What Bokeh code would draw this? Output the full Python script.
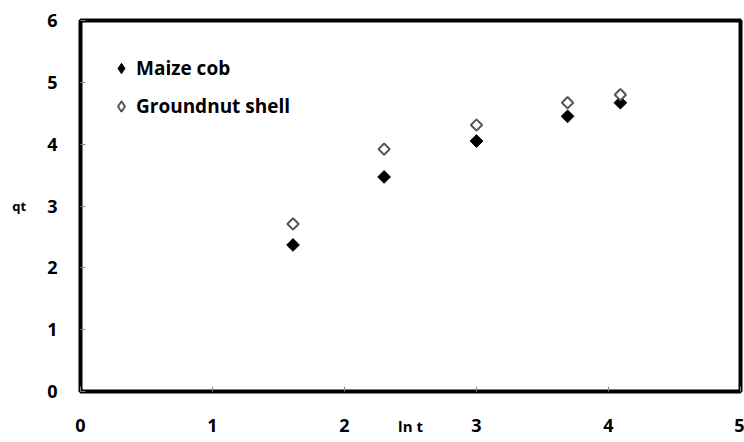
import math
from bokeh.plotting import figure
from bokeh.models import FixedTicker, Legend, LegendItem, Range1d
from bokeh.embed import file_html
from bokeh.resources import INLINE

# ---- data ----
ln_t = [1.61, 2.30, 3.00, 3.69, 4.09]
maize_cob = [2.37, 3.47, 4.05, 4.45, 4.67]
groundnut_shell = [2.71, 3.92, 4.31, 4.67, 4.80]
x_ticks = [0, 1, 2, 3, 4, 5]
y_ticks = [0, 1, 2, 3, 4, 5, 6]
x_title = "ln t"
y_title = "qt"
series_names = ["Maize cob", "Groundnut shell"]

FONT = "Open Sans"

p = figure(width=744, height=442, output_backend="svg", toolbar_location=None,
           x_range=Range1d(0, 5), y_range=Range1d(0, 6),
           min_border_left=80, min_border_right=4, min_border_top=20,
           min_border_bottom=51)
p.background_fill_color = "white"
p.border_fill_color = "white"
p.outline_line_color = "black"
p.outline_line_width = 4
p.xgrid.grid_line_color = None
p.ygrid.grid_line_color = None

for ax, ticks in ((p.xaxis, x_ticks), (p.yaxis, y_ticks)):
    ax.ticker = FixedTicker(ticks=ticks)
    ax.axis_line_color = None
    ax.major_tick_in = 5
    ax.major_tick_out = 0
    ax.major_tick_line_color = "#888888"
    ax.minor_tick_line_color = None
    ax.major_label_text_font = FONT
    ax.major_label_text_font_style = "bold"
    ax.major_label_text_font_size = "18px"
    ax.major_label_text_color = "black"
p.xaxis.major_label_standoff = 27
p.yaxis.major_label_standoff = 23

p.xaxis.axis_label = x_title
p.xaxis.axis_label_standoff = -19
p.xaxis.axis_label_text_font = FONT
p.xaxis.axis_label_text_font_style = "bold"
p.xaxis.axis_label_text_font_size = "15px"
p.xaxis.axis_label_text_color = "black"

p.yaxis.axis_label = y_title
p.yaxis.axis_label_orientation = "horizontal"
p.yaxis.axis_label_standoff = 18
p.yaxis.axis_label_text_font = FONT
p.yaxis.axis_label_text_font_style = "bold"
p.yaxis.axis_label_text_font_size = "13px"
p.yaxis.axis_label_text_color = "black"

r1 = p.scatter(ln_t, maize_cob, marker="square", size=9, angle=math.pi / 4,
               fill_color="black", line_color="black", line_width=1)
r2 = p.scatter(ln_t, groundnut_shell, marker="square", size=8, angle=math.pi / 4,
               fill_color="white", line_color="#555555", line_width=2)

# hidden twins of the series, used only to draw diamond keys in the legend
l1 = p.scatter(ln_t, maize_cob, marker="diamond", fill_color="black",
               line_color="black", visible=False)
l2 = p.scatter(ln_t, groundnut_shell, marker="diamond", fill_color="white",
               line_color="#555555", line_width=2, visible=False)

legend = Legend(items=[LegendItem(label=series_names[0], renderers=[l1]),
                       LegendItem(label=series_names[1], renderers=[l2])],
                location=(28, 272), padding=5, spacing=12,
                glyph_width=26, glyph_height=26, label_height=26,
                label_standoff=2, border_line_color=None,
                background_fill_alpha=0, click_policy="none",
                label_text_font=FONT, label_text_font_style="bold",
                label_text_font_size="19px", label_text_color="black")
p.add_layout(legend)

open("out.html", "w").write(file_html(p, INLINE))
